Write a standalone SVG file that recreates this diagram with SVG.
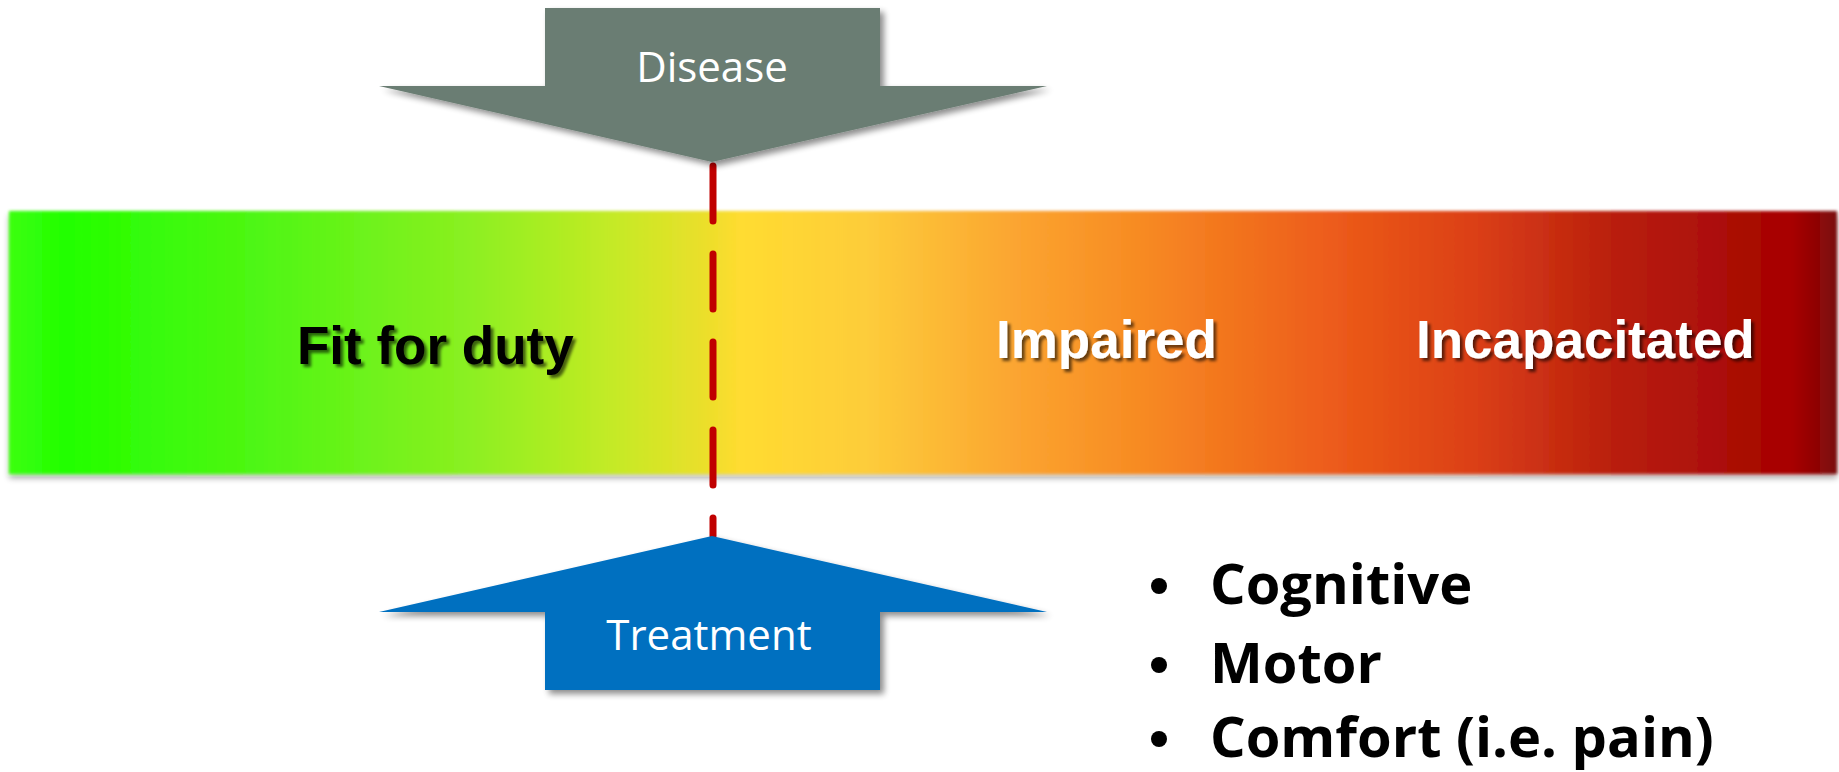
<svg xmlns="http://www.w3.org/2000/svg" width="1839" height="772" viewBox="0 0 1839 772">
  <defs>
    <linearGradient id="barGrad" x1="0" y1="0" x2="1" y2="0">
      <stop offset="0" stop-color="#3cff10"/>
      <stop offset="0.03" stop-color="#22ff00"/>
      <stop offset="0.15" stop-color="#55f515"/>
      <stop offset="0.25" stop-color="#8af020"/>
      <stop offset="0.33" stop-color="#c4ea25"/>
      <stop offset="0.38" stop-color="#eadf2a"/>
      <stop offset="0.40" stop-color="#ffdc30"/>
      <stop offset="0.47" stop-color="#fdcc3a"/>
      <stop offset="0.55" stop-color="#fba530"/>
      <stop offset="0.62" stop-color="#f78a22"/>
      <stop offset="0.72" stop-color="#ed5d1a"/>
      <stop offset="0.80" stop-color="#dc4015"/>
      <stop offset="0.88" stop-color="#b81e0e"/>
      <stop offset="0.95" stop-color="#a80a05"/>
      <stop offset="0.975" stop-color="#a80000"/>
      <stop offset="1" stop-color="#7a0a0a"/>
    </linearGradient>
    <filter id="shadow" x="-10%" y="-10%" width="120%" height="130%">
      <feGaussianBlur in="SourceAlpha" stdDeviation="3"/>
      <feOffset dx="4" dy="4" result="b"/>
      <feComponentTransfer><feFuncA type="linear" slope="0.45"/></feComponentTransfer>
      <feMerge><feMergeNode/><feMergeNode in="SourceGraphic"/></feMerge>
    </filter>
    <filter id="barShadow" x="-2%" y="-10%" width="104%" height="125%">
      <feGaussianBlur in="SourceGraphic" stdDeviation="1.5" result="s"/>
      <feGaussianBlur in="SourceAlpha" stdDeviation="3"/>
      <feOffset dx="0" dy="4"/>
      <feComponentTransfer><feFuncA type="linear" slope="0.35"/></feComponentTransfer>
      <feMerge><feMergeNode/><feMergeNode in="s"/></feMerge>
    </filter>
    <filter id="txtShadow" x="-5%" y="-20%" width="110%" height="150%">
      <feGaussianBlur in="SourceAlpha" stdDeviation="1.5"/>
      <feOffset dx="3" dy="3"/>
      <feComponentTransfer><feFuncA type="linear" slope="0.6"/></feComponentTransfer>
      <feMerge><feMergeNode/><feMergeNode in="SourceGraphic"/></feMerge>
    </filter>
  </defs>
  <style>
    .zone { font-family: "Liberation Sans", Arial, sans-serif; font-weight: bold; font-size: 53px; }
    .arrowLabel { font-family: "Open Sans", "Noto Sans", sans-serif; font-weight: 400; font-size: 42px; fill: #ffffff; text-anchor: middle; }
    .bullet { font-family: "Open Sans", "Noto Sans", sans-serif; font-weight: bold; font-size: 56px; fill: #000000; }
  </style>

  <g id="bar">
    <rect x="9" y="211" width="1828" height="263" fill="url(#barGrad)" filter="url(#barShadow)"/>
    <text class="zone" x="297" y="364" fill="#000000" filter="url(#txtShadow)">Fit for duty</text>
    <text class="zone" x="996" y="358" fill="#ffffff" filter="url(#txtShadow)">Impaired</text>
    <text class="zone" x="1416" y="358" fill="#ffffff" filter="url(#txtShadow)">Incapacitated</text>
  </g>

  <g id="connectors">
    <line x1="713" y1="166" x2="713" y2="536" stroke="#c00000" stroke-width="7" stroke-linecap="round" stroke-dasharray="55 33"/>
  </g>

  <g id="disease">
    <polygon points="545,8 880,8 880,86 1047,86 712,162 379,86 545,86" fill="#6b7d73" filter="url(#shadow)"/>
    <text class="arrowLabel" x="712" y="82">Disease</text>
  </g>

  <g id="treatment">
    <polygon points="712,536 1047,612 880,612 880,690 545,690 545,612 379,612" fill="#0070c0" filter="url(#shadow)"/>
    <text class="arrowLabel" x="709" y="650">Treatment</text>
  </g>

  <g id="bullets">
    <circle cx="1159" cy="586" r="8" fill="#000000"/>
    <text class="bullet" x="1210" y="604">Cognitive</text>
    <circle cx="1159" cy="665" r="8" fill="#000000"/>
    <text class="bullet" x="1210" y="683">Motor</text>
    <circle cx="1159" cy="739" r="8" fill="#000000"/>
    <text class="bullet" x="1210" y="757">Comfort (i.e. pain)</text>
  </g>
</svg>
